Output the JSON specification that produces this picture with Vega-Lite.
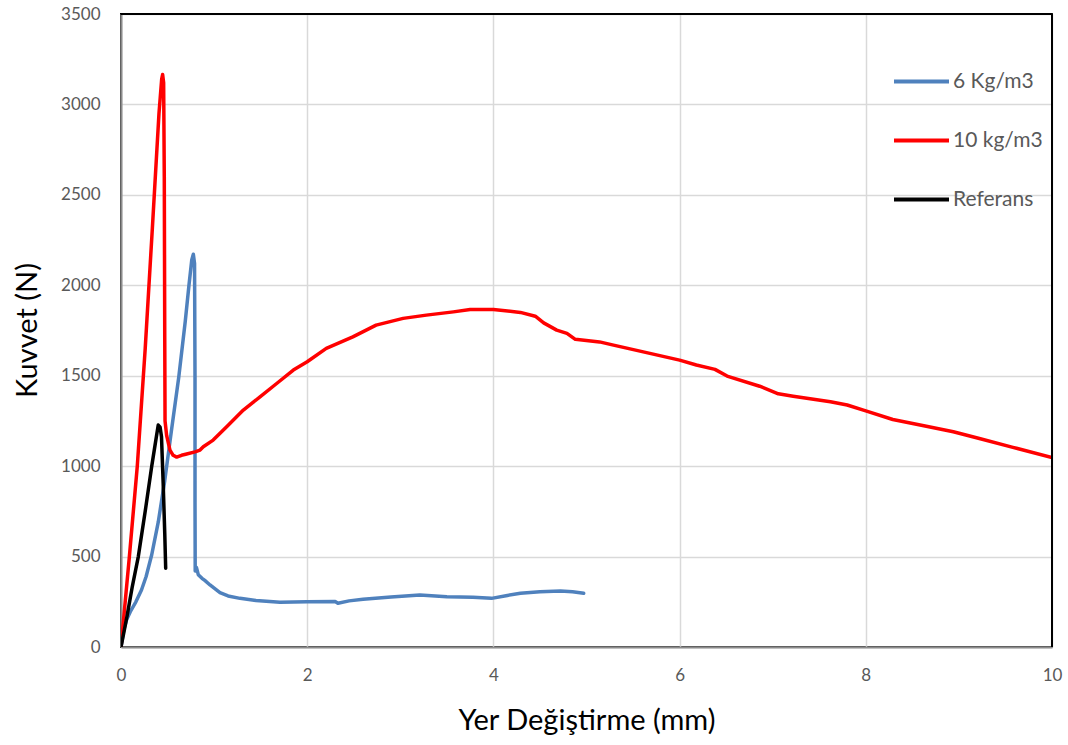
{
  "$schema": "https://vega.github.io/schema/vega-lite/v6.json",
  "width": 931,
  "height": 633,
  "autosize": {"type": "none"},
  "padding": {"left": 121, "top": 14, "right": 16, "bottom": 98},
  "background": "#FFFFFF",
  "config": {
    "font": "Lato",
    "view": {"stroke": "#000000", "strokeWidth": 2},
    "axis": {
      "grid": true,
      "gridColor": "#D9D9D9",
      "gridWidth": 1.5,
      "ticks": false,
      "tickSize": 0,
      "labelFlush": false,
      "labelOverlap": false,
      "domainColor": "#8C8C8C",
      "domainWidth": 2,
      "labelFont": "Lato",
      "labelFontSize": 17,
      "labelColor": "#595959",
      "titleFont": "Lato",
      "titleFontSize": 29,
      "titleFontWeight": "normal",
      "titleColor": "#000000"
    }
  },
  "data": {
    "values": [
      {"s": "6 Kg/m3", "i": 1, "x": 0, "y": 0},
      {"s": "6 Kg/m3", "i": 2, "x": 0.03, "y": 95},
      {"s": "6 Kg/m3", "i": 3, "x": 0.06, "y": 150},
      {"s": "6 Kg/m3", "i": 4, "x": 0.1, "y": 195},
      {"s": "6 Kg/m3", "i": 5, "x": 0.16, "y": 250},
      {"s": "6 Kg/m3", "i": 6, "x": 0.22, "y": 315},
      {"s": "6 Kg/m3", "i": 7, "x": 0.27, "y": 390},
      {"s": "6 Kg/m3", "i": 8, "x": 0.33, "y": 510},
      {"s": "6 Kg/m3", "i": 9, "x": 0.4, "y": 690},
      {"s": "6 Kg/m3", "i": 10, "x": 0.47, "y": 920},
      {"s": "6 Kg/m3", "i": 11, "x": 0.54, "y": 1190},
      {"s": "6 Kg/m3", "i": 12, "x": 0.62, "y": 1490},
      {"s": "6 Kg/m3", "i": 13, "x": 0.69, "y": 1800},
      {"s": "6 Kg/m3", "i": 14, "x": 0.73, "y": 2000},
      {"s": "6 Kg/m3", "i": 15, "x": 0.76, "y": 2140},
      {"s": "6 Kg/m3", "i": 16, "x": 0.777, "y": 2172},
      {"s": "6 Kg/m3", "i": 17, "x": 0.79, "y": 2120},
      {"s": "6 Kg/m3", "i": 18, "x": 0.795, "y": 1500},
      {"s": "6 Kg/m3", "i": 19, "x": 0.795, "y": 800},
      {"s": "6 Kg/m3", "i": 20, "x": 0.797, "y": 420},
      {"s": "6 Kg/m3", "i": 21, "x": 0.81, "y": 440},
      {"s": "6 Kg/m3", "i": 22, "x": 0.83, "y": 400},
      {"s": "6 Kg/m3", "i": 23, "x": 0.87, "y": 380},
      {"s": "6 Kg/m3", "i": 24, "x": 0.9, "y": 368},
      {"s": "6 Kg/m3", "i": 25, "x": 0.956, "y": 343},
      {"s": "6 Kg/m3", "i": 26, "x": 1.063, "y": 300},
      {"s": "6 Kg/m3", "i": 27, "x": 1.15, "y": 282},
      {"s": "6 Kg/m3", "i": 28, "x": 1.278, "y": 269},
      {"s": "6 Kg/m3", "i": 29, "x": 1.45, "y": 257},
      {"s": "6 Kg/m3", "i": 30, "x": 1.708, "y": 247},
      {"s": "6 Kg/m3", "i": 31, "x": 2.0, "y": 250},
      {"s": "6 Kg/m3", "i": 32, "x": 2.3, "y": 252},
      {"s": "6 Kg/m3", "i": 33, "x": 2.33, "y": 242},
      {"s": "6 Kg/m3", "i": 34, "x": 2.45, "y": 255},
      {"s": "6 Kg/m3", "i": 35, "x": 2.6, "y": 264},
      {"s": "6 Kg/m3", "i": 36, "x": 2.9, "y": 276},
      {"s": "6 Kg/m3", "i": 37, "x": 3.21, "y": 287},
      {"s": "6 Kg/m3", "i": 38, "x": 3.5, "y": 278},
      {"s": "6 Kg/m3", "i": 39, "x": 3.78, "y": 275},
      {"s": "6 Kg/m3", "i": 40, "x": 3.98, "y": 269},
      {"s": "6 Kg/m3", "i": 41, "x": 4.15, "y": 285},
      {"s": "6 Kg/m3", "i": 42, "x": 4.29, "y": 297},
      {"s": "6 Kg/m3", "i": 43, "x": 4.5, "y": 305},
      {"s": "6 Kg/m3", "i": 44, "x": 4.72, "y": 310},
      {"s": "6 Kg/m3", "i": 45, "x": 4.85, "y": 305},
      {"s": "6 Kg/m3", "i": 46, "x": 4.97, "y": 297},
      {"s": "10 kg/m3", "i": 1, "x": 0, "y": 0},
      {"s": "10 kg/m3", "i": 2, "x": 0.09, "y": 500},
      {"s": "10 kg/m3", "i": 3, "x": 0.175, "y": 1000},
      {"s": "10 kg/m3", "i": 4, "x": 0.26, "y": 1650},
      {"s": "10 kg/m3", "i": 5, "x": 0.335, "y": 2300},
      {"s": "10 kg/m3", "i": 6, "x": 0.408, "y": 2950},
      {"s": "10 kg/m3", "i": 7, "x": 0.437, "y": 3140},
      {"s": "10 kg/m3", "i": 8, "x": 0.447, "y": 3165},
      {"s": "10 kg/m3", "i": 9, "x": 0.458, "y": 3120},
      {"s": "10 kg/m3", "i": 10, "x": 0.465, "y": 2600},
      {"s": "10 kg/m3", "i": 11, "x": 0.47, "y": 1700},
      {"s": "10 kg/m3", "i": 12, "x": 0.473, "y": 1250},
      {"s": "10 kg/m3", "i": 13, "x": 0.49, "y": 1170},
      {"s": "10 kg/m3", "i": 14, "x": 0.526, "y": 1089},
      {"s": "10 kg/m3", "i": 15, "x": 0.56, "y": 1060},
      {"s": "10 kg/m3", "i": 16, "x": 0.598, "y": 1050},
      {"s": "10 kg/m3", "i": 17, "x": 0.65, "y": 1060},
      {"s": "10 kg/m3", "i": 18, "x": 0.705, "y": 1067},
      {"s": "10 kg/m3", "i": 19, "x": 0.795, "y": 1079},
      {"s": "10 kg/m3", "i": 20, "x": 0.849, "y": 1089},
      {"s": "10 kg/m3", "i": 21, "x": 0.884, "y": 1107},
      {"s": "10 kg/m3", "i": 22, "x": 0.99, "y": 1144},
      {"s": "10 kg/m3", "i": 23, "x": 1.135, "y": 1218},
      {"s": "10 kg/m3", "i": 24, "x": 1.314, "y": 1310},
      {"s": "10 kg/m3", "i": 25, "x": 1.493, "y": 1383},
      {"s": "10 kg/m3", "i": 26, "x": 1.672, "y": 1457},
      {"s": "10 kg/m3", "i": 27, "x": 1.851, "y": 1531},
      {"s": "10 kg/m3", "i": 28, "x": 2.0, "y": 1577},
      {"s": "10 kg/m3", "i": 29, "x": 2.205, "y": 1651},
      {"s": "10 kg/m3", "i": 30, "x": 2.49, "y": 1715},
      {"s": "10 kg/m3", "i": 31, "x": 2.74, "y": 1780},
      {"s": "10 kg/m3", "i": 32, "x": 3.03, "y": 1817},
      {"s": "10 kg/m3", "i": 33, "x": 3.28, "y": 1835},
      {"s": "10 kg/m3", "i": 34, "x": 3.57, "y": 1853},
      {"s": "10 kg/m3", "i": 35, "x": 3.75, "y": 1866},
      {"s": "10 kg/m3", "i": 36, "x": 4.0, "y": 1866},
      {"s": "10 kg/m3", "i": 37, "x": 4.29, "y": 1850},
      {"s": "10 kg/m3", "i": 38, "x": 4.45, "y": 1829},
      {"s": "10 kg/m3", "i": 39, "x": 4.54, "y": 1792},
      {"s": "10 kg/m3", "i": 40, "x": 4.68, "y": 1752},
      {"s": "10 kg/m3", "i": 41, "x": 4.79, "y": 1734},
      {"s": "10 kg/m3", "i": 42, "x": 4.88, "y": 1701},
      {"s": "10 kg/m3", "i": 43, "x": 5.14, "y": 1687},
      {"s": "10 kg/m3", "i": 44, "x": 5.29, "y": 1669},
      {"s": "10 kg/m3", "i": 45, "x": 5.61, "y": 1632},
      {"s": "10 kg/m3", "i": 46, "x": 6.0, "y": 1586},
      {"s": "10 kg/m3", "i": 47, "x": 6.18, "y": 1559},
      {"s": "10 kg/m3", "i": 48, "x": 6.38, "y": 1535},
      {"s": "10 kg/m3", "i": 49, "x": 6.51, "y": 1498},
      {"s": "10 kg/m3", "i": 50, "x": 6.86, "y": 1442},
      {"s": "10 kg/m3", "i": 51, "x": 7.06, "y": 1400},
      {"s": "10 kg/m3", "i": 52, "x": 7.22, "y": 1387},
      {"s": "10 kg/m3", "i": 53, "x": 7.62, "y": 1356},
      {"s": "10 kg/m3", "i": 54, "x": 7.8, "y": 1338},
      {"s": "10 kg/m3", "i": 55, "x": 8.0, "y": 1306},
      {"s": "10 kg/m3", "i": 56, "x": 8.29, "y": 1258},
      {"s": "10 kg/m3", "i": 57, "x": 8.65, "y": 1221},
      {"s": "10 kg/m3", "i": 58, "x": 8.94, "y": 1190},
      {"s": "10 kg/m3", "i": 59, "x": 9.22, "y": 1153},
      {"s": "10 kg/m3", "i": 60, "x": 9.58, "y": 1104},
      {"s": "10 kg/m3", "i": 61, "x": 10.0, "y": 1048},
      {"s": "Referans", "i": 1, "x": 0, "y": 0},
      {"s": "Referans", "i": 2, "x": 0.064, "y": 168},
      {"s": "Referans", "i": 3, "x": 0.12, "y": 330},
      {"s": "Referans", "i": 4, "x": 0.186, "y": 500},
      {"s": "Referans", "i": 5, "x": 0.26, "y": 750},
      {"s": "Referans", "i": 6, "x": 0.33, "y": 1000},
      {"s": "Referans", "i": 7, "x": 0.37, "y": 1130},
      {"s": "Referans", "i": 8, "x": 0.4, "y": 1227},
      {"s": "Referans", "i": 9, "x": 0.42, "y": 1215},
      {"s": "Referans", "i": 10, "x": 0.435, "y": 1162},
      {"s": "Referans", "i": 11, "x": 0.453, "y": 905},
      {"s": "Referans", "i": 12, "x": 0.47, "y": 628},
      {"s": "Referans", "i": 13, "x": 0.48, "y": 435}
    ]
  },
  "layer": [
    {
      "mark": {"type": "line", "strokeWidth": 3.5, "strokeCap": "round", "strokeJoin": "round", "clip": true},
      "encoding": {
        "x": {
          "field": "x", "type": "quantitative",
          "scale": {"domain": [0, 10], "nice": false},
          "axis": {"values": [0, 2, 4, 6, 8, 10], "format": "d", "title": "Yer Değiştirme (mm)", "labelPadding": 20, "titleY": 73, "titleBaseline": "middle"}
        },
        "y": {
          "field": "y", "type": "quantitative",
          "scale": {"domain": [0, 3500], "nice": false},
          "axis": {"values": [0, 500, 1000, 1500, 2000, 2500, 3000, 3500], "format": "d", "title": "Kuvvet (N)", "labelPadding": 21, "titleX": -94, "titleY": 316, "titleAngle": -90, "titleBaseline": "middle", "titleAlign": "center"}
        },
        "color": {
          "field": "s", "type": "nominal",
          "scale": {"domain": ["6 Kg/m3", "10 kg/m3", "Referans"], "range": ["#4F81BD", "#FF0000", "#000000"]},
          "legend": {
            "orient": "none", "legendX": 771, "legendY": 38, "title": null,
            "symbolType": "stroke", "symbolSize": 3025, "symbolStrokeWidth": 4,
            "labelFontSize": 21, "labelColor": "#595959", "labelFont": "Lato",
            "rowPadding": 19, "labelOffset": 2, "padding": 0
          }
        },
        "order": {"field": "i", "type": "quantitative"}
      }
    },
    {
      "mark": {"type": "rule", "color": "#000000", "strokeWidth": 2},
      "encoding": {"x": {"datum": 10}}
    },
    {
      "mark": {"type": "rule", "color": "#000000", "strokeWidth": 2},
      "encoding": {"y": {"datum": 3500}}
    }
  ]
}
